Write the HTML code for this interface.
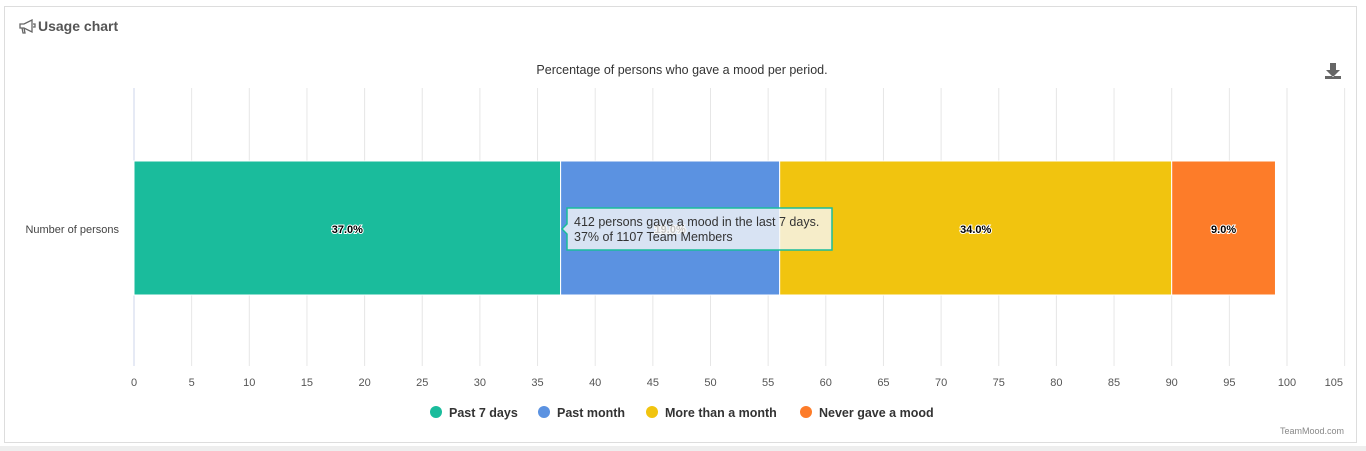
<!DOCTYPE html>
<html><head><meta charset="utf-8"><style>
body{margin:0;width:1366px;height:451px;background:#fff;font-family:"Liberation Sans",sans-serif;overflow:hidden;position:relative}
.card{position:absolute;left:4px;top:6px;width:1353px;height:437px;border:1px solid #ddd;box-sizing:border-box}
.title{position:absolute;left:38px;top:18px;font-weight:bold;font-size:14px;color:#555}
.bottom{position:absolute;left:0;top:446px;width:1366px;height:5px;background:#eee}
</style></head><body>
<div class="card"></div>
<div class="bottom"></div>
<svg style="position:absolute;left:19px;top:19px" width="17" height="15" viewBox="0 0 17 15"><path d="M1 5h4l8-4v12l-8-4H1z M3 9l1 5h2l-1-5 M14 5h2v3h-2" fill="none" stroke="#666" stroke-width="1.3"/></svg>
<div class="title">Usage chart</div>
<svg id="chart" width="1366" height="451" style="position:absolute;left:0;top:0" font-family="Liberation Sans, sans-serif"></svg>
<script>
const categories=["Past 7 days","Past month","More than a month","Never gave a mood"];
const values=[37,19,34,9];
const colors=["#1abc9c","#5b92e1","#f1c40f","#fd7c29"];
const ticks=[0,5,10,15,20,25,30,35,40,45,50,55,60,65,70,75,80,85,90,95,100,105];
const NS="http://www.w3.org/2000/svg";
const svg=document.getElementById('chart');
const x=v=>134+v*11.53;
function el(t,a,txt){const e=document.createElementNS(NS,t);for(const k in a)e.setAttribute(k,a[k]);if(txt!=null)e.textContent=txt;svg.appendChild(e);return e;}
let t=el('text',{x:682,y:74,'text-anchor':'middle','font-size':12.5,fill:'#333'},'Percentage of persons who gave a mood per period.');


ticks.forEach((v,i)=>{
 let g=el('line',{x1:x(v),x2:x(v),y1:88,y2:366,stroke:v===0?'#ccd6eb':'#e6e6e6'});
 
 
 const last=i===ticks.length-1;
 let l=el('text',{x:last?1343:x(v),y:386,'text-anchor':last?'end':'middle','font-size':11,fill:'#555'},String(v));
 
 
});
let c=el('text',{x:119,y:233,'text-anchor':'end','font-size':11,fill:'#444'},'Number of persons');


let acc=0;
values.forEach((v,i)=>{
 let r=el('rect',{x:x(acc),y:161,width:x(acc+v)-x(acc),height:134,fill:colors[i],stroke:'#fff','stroke-width':1});
 
 
 let lb=el('text',{x:(x(acc)+x(acc+v))/2,y:233,'text-anchor':'middle','font-size':11,'font-weight':'bold',fill:'#000',stroke:'#fff','stroke-width':2,'paint-order':'stroke'},v.toFixed(1)+'%');
 
 
 acc+=v;
});
let tp=el('path',{d:'M567 208 H832 V250 H567 V234 L562 229 L567 224 Z',fill:'rgba(247,247,247,0.8)',stroke:'#1abc9c','stroke-width':1.5});


let t1=el('text',{x:574,y:226,'font-size':12.5,fill:'#333'},'412 persons gave a mood in the last 7 days.');


let t2=el('text',{x:574,y:241,'font-size':12.5,fill:'#333'},'37% of 1107 Team Members');


const lx=[436,544,652,806];
categories.forEach((cat,i)=>{
 let d=el('circle',{cx:lx[i],cy:412,r:6,fill:colors[i]});
 
 
 let lt=el('text',{x:lx[i]+13,y:417,'font-size':12.5,'font-weight':'bold',fill:'#333'},cat);
 
 
});
let cr=el('text',{x:1344,y:434,'text-anchor':'end','font-size':9,fill:'#888'},'TeamMood.com');


let dl=el('path',{d:'M1330 63h6v7h4l-7 7-7-7h4z M1325 76v3h16v-3',fill:'#666'});


</script>
</body></html>
